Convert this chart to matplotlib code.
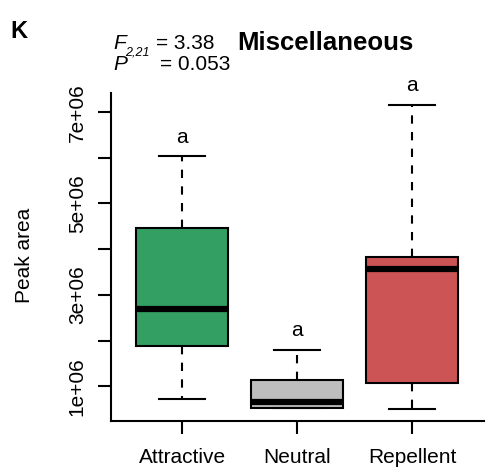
import matplotlib
matplotlib.use("Agg")
import matplotlib.pyplot as plt

plt.rcParams["font.family"] = ["Liberation Sans", "DejaVu Sans"]

# group names and box statistics (peak area)
groups = ["Attractive", "Neutral", "Repellent"]
whislo = [0.73e6, 0.52e6, 0.51e6]
q1 = [1.875e6, 0.53e6, 1.08e6]
med = [2.68e6, 0.645e6, 3.56e6]
q3 = [4.47e6, 1.146e6, 3.82e6]
whishi = [6.03e6, 1.79e6, 7.16e6]
letters = ["a", "a", "a"]
colors = ["#349F62", "#BEBEBE", "#CD5454"]

yticks = [1e6, 2e6, 3e6, 4e6, 5e6, 6e6, 7e6]
ylabels = ["1e+06", "", "3e+06", "", "5e+06", "", "7e+06"]

W, H = 486, 471
fig = plt.figure(figsize=(W / 100, H / 100), dpi=100)
ax = fig.add_axes([111 / W, 1 - 420.7 / H, (483.6 - 111) / W, (420.7 - 92.7) / H])

stats = []
for i in range(len(groups)):
    stats.append({"whislo": whislo[i], "q1": q1[i], "med": med[i],
                  "q3": q3[i], "whishi": whishi[i], "fliers": []})

bp = ax.bxp(stats, positions=[1, 2, 3], widths=0.8, capwidths=0.4,
            patch_artist=True, showfliers=False,
            boxprops=dict(linewidth=1.5, edgecolor="black"),
            medianprops=dict(linewidth=4.5, color="black", solid_capstyle="butt"),
            whiskerprops=dict(linewidth=1.5, linestyle=(0, (4, 4)), color="black"),
            capprops=dict(linewidth=1.5, color="black"))
for patch, c in zip(bp["boxes"], colors):
    patch.set_facecolor(c)

for i, lab in enumerate(letters):
    ax.annotate(lab, (i + 1, whishi[i]), xytext=(0, 10), textcoords="offset points",
                ha="center", va="baseline", fontsize=15)

# R style axis ranges (4% padding)
lo, hi = min(whislo), max(whishi)
pad = (hi - lo) * 0.04
ax.set_ylim(lo - pad, hi + pad)
ax.set_xlim(0.5 - 0.12, 3.5 + 0.12)

ax.set_yticks(yticks)
ax.set_yticklabels(ylabels, rotation=90, va="center")
ax.set_xticks([1, 2, 3])
ax.set_xticklabels(groups)
ax.tick_params(axis="both", length=9.4, width=1.5, labelsize=15)
ax.tick_params(axis="y", pad=8)
ax.tick_params(axis="x", pad=10)

for s in ["top", "right"]:
    ax.spines[s].set_visible(False)
for s in ["left", "bottom"]:
    ax.spines[s].set_linewidth(1.5)

fig.text(24.5 / W, 1 - 255.5 / H, "Peak area", rotation=90, ha="center", va="center", fontsize=15)

# panel letter, title and stats
fig.text(10 / W, 1 - 38.3 / H, "K", fontsize=17, fontweight="bold", va="baseline")
fig.text(237 / W, 1 - 50 / H, "Miscellaneous", fontsize=18.5, fontweight="bold", va="baseline")
fig.text(113 / W, 1 - 49.3 / H, "F", fontsize=15, style="italic", va="baseline")
fig.text(125 / W, 1 - 55.5 / H, "2,21", fontsize=9, style="italic", va="baseline")
fig.text(156 / W, 1 - 49.3 / H, "= 3.38", fontsize=15, va="baseline")
fig.text(113 / W, 1 - 70 / H, "P", fontsize=15, style="italic", va="baseline")
fig.text(159.5 / W, 1 - 70 / H, "= 0.053", fontsize=15, va="baseline")

fig.savefig("out.png", dpi=100)
